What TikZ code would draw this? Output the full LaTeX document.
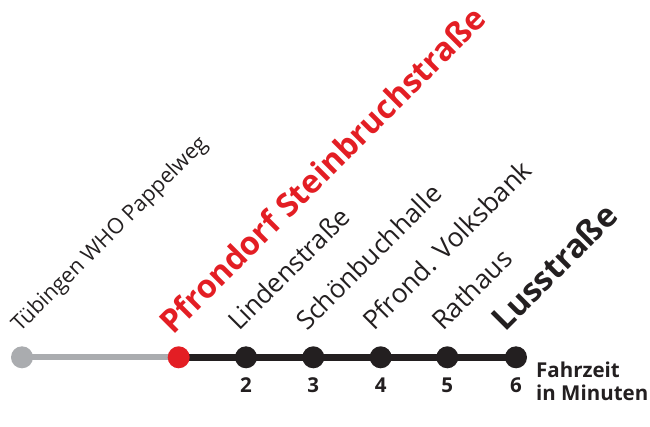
\documentclass[tikz,border=0pt]{standalone}
\usepackage{fontspec}
\setmainfont{Open Sans}
\definecolor{lred}{RGB}{227,30,36}
\definecolor{lgrey}{RGB}{170,172,175}
\definecolor{lblack}{RGB}{35,31,32}
\begin{document}
\begin{tikzpicture}[x=1pt,y=-1pt,
  stopdot/.style={circle,fill=lblack,minimum size=22pt,inner sep=0pt},
  lbl/.style={rotate=45,anchor=base west,inner sep=0pt,text=lblack,font=\fontsize{26}{30}\selectfont},
  biglbl/.style={rotate=45,anchor=base west,inner sep=0pt,font=\fontsize{32.5}{36}\selectfont\bfseries},
  num/.style={text=lblack,font=\fontsize{20.5}{24}\selectfont\bfseries,inner sep=0pt,anchor=base}]
\useasboundingbox (0,0) rectangle (650,427);
% stops
\coordinate (s0) at (22,357.3);
\coordinate (s1) at (178.7,357.3);
\coordinate (s2) at (246,357.3);
\coordinate (s3) at (313.3,357.3);
\coordinate (s4) at (380.7,357.3);
\coordinate (s5) at (447.3,357.3);
\coordinate (s6) at (516,357.3);
% lines
\draw[lgrey,line width=6pt] (s0) -- (s1);
\draw[lblack,line width=7pt] (s1) -- (s6);
\node[stopdot,fill=lgrey] (d0) at (s0) {};
\node[stopdot,fill=lred] (d1) at (s1) {};
\node[stopdot] (d2) at (s2) {};
\node[stopdot] (d3) at (s3) {};
\node[stopdot] (d4) at (s4) {};
\node[stopdot] (d5) at (s5) {};
\node[stopdot] (d6) at (s6) {};
% labels
\node[lbl,font=\fontsize{21.5}{25}\selectfont] (l0) at (20,333) {Tübingen WHO Pappelweg};
\node[biglbl,text=lred,font=\fontsize{32.3}{36}\selectfont\bfseries] (l1) at (173,336) {Pfrondorf Steinbruchstraße};
\node[lbl] (l2) at (239,332) {Lindenstraße};
\node[lbl] (l3) at (307,332) {Schönbuchhalle};
\node[lbl,font=\fontsize{26.5}{30}\selectfont] (l4) at (374,332) {Pfrond. Volksbank};
\node[lbl,font=\fontsize{26.5}{30}\selectfont] (l5) at (443,332) {Rathaus};
\node[biglbl,text=lblack] (l6) at (505,333) {Lusstraße};
% numbers
\node[num] (n2) at (246,392.3) {2};
\node[num] (n3) at (313.3,392.3) {3};
\node[num] (n4) at (380.7,392.3) {4};
\node[num] (n5) at (447.3,392.3) {5};
\node[num] (n6) at (516,392.3) {6};
\node[anchor=base west,inner sep=0pt,text=lblack,font=\fontsize{20.5}{23.3}\selectfont\bfseries,align=left] (ft) at (536,400.7) {Fahrzeit\\in Minuten};
\end{tikzpicture}
\end{document}
